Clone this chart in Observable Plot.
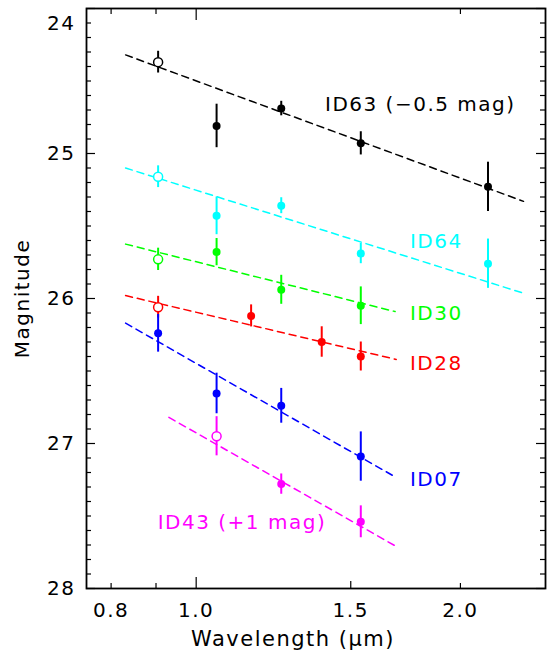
<!DOCTYPE html>
<html>
<head>
<meta charset="utf-8">
<script src="https://cdn.jsdelivr.net/npm/d3@7"></script>
<script src="https://cdn.jsdelivr.net/npm/@observablehq/plot@0.6"></script>
<style>
  html, body { margin: 0; padding: 0; background: white; }
</style>
</head>
<body>
<div id="chart"></div>
<script>
// ---------- data ----------
const ids = ["ID63", "ID64", "ID30", "ID28", "ID07", "ID43"];
const colors = ["#000000", "#00ffff", "#00ff00", "#ff0000", "#0000ff", "#ff00ff"];

// wavelengths (micron) per object
const wlID63 = [0.905, 1.055, 1.25, 1.54, 2.15];
const wlID64 = [0.905, 1.055, 1.25, 1.54, 2.15];
const wlID30 = [0.905, 1.055, 1.25, 1.54];
const wlID28 = [0.905, 1.155, 1.39, 1.54];
const wlID07 = [0.905, 1.055, 1.25, 1.54];
const wlID43 = [1.055, 1.25, 1.54];

// magnitudes (with offsets already applied as in the figure)
const magID63 = [24.37, 24.81, 24.69, 24.93, 25.23];
const magID64 = [25.16, 25.43, 25.36, 25.69, 25.76];
const magID30 = [25.73, 25.68, 25.94, 26.05];
const magID28 = [26.06, 26.12, 26.30, 26.40];
const magID07 = [26.24, 26.655, 26.74, 27.09];
const magID43 = [26.95, 27.28, 27.54];

// errors
const errID63 = [0.075, 0.15, 0.05, 0.08, 0.17];
const errID64 = [0.075, 0.13, 0.055, 0.07, 0.17];
const errID30 = [0.077, 0.094, 0.10, 0.13];
const errID28 = [0.075, 0.076, 0.105, 0.10];
const errID07 = [0.13, 0.14, 0.12, 0.17];
const errID43 = [0.135, 0.07, 0.11];

// open symbol flags (1 = open circle)
const openID63 = [1, 0, 0, 0, 0];
const openID64 = [1, 0, 0, 0, 0];
const openID30 = [1, 0, 0, 0];
const openID28 = [1, 0, 0, 0];
const openID07 = [0, 0, 0, 0];
const openID43 = [1, 0, 0];

// fitted power-law lines: [wl start, mag start, wl end, mag end]
const fitID63 = [0.831, 24.32, 2.36, 25.33];
const fitID64 = [0.831, 25.10, 2.35, 25.96];
const fitID30 = [0.831, 25.625, 1.685, 26.09];
const fitID28 = [0.831, 25.98, 1.69, 26.42];
const fitID07 = [0.831, 26.17, 1.685, 27.23];
const fitID43 = [0.931, 26.82, 1.69, 27.71];

// label texts and anchor (wl, mag)
const labelTexts = ["ID63 (\u22120.5 mag)", "ID64", "ID30", "ID28", "ID07", "ID43 (+1 mag)"];
const labelWl = [1.402, 1.752, 1.752, 1.752, 1.752, 0.904];
const labelMag = [24.664, 25.607, 26.106, 26.45, 27.246, 27.545];

// axis ticks
const xTickLabels = [0.8, 1.0, 1.5, 2.0];
const yTickLabels = [25, 26, 27, 28];

// ---------- build tables ----------
const wls = [wlID63, wlID64, wlID30, wlID28, wlID07, wlID43];
const mags = [magID63, magID64, magID30, magID28, magID07, magID43];
const errs = [errID63, errID64, errID30, errID28, errID07, errID43];
const opens = [openID63, openID64, openID30, openID28, openID07, openID43];
const fits = [fitID63, fitID64, fitID30, fitID28, fitID07, fitID43];

const points = [];
ids.forEach((id, i) => {
  wls[i].forEach((w, j) => {
    points.push({id, color: colors[i], wl: w, mag: mags[i][j], err: errs[i][j], open: opens[i][j] === 1});
  });
});
const lines = [];
ids.forEach((id, i) => {
  const f = fits[i];
  lines.push({id, color: colors[i], wl: f[0], mag: f[1]});
  lines.push({id, color: colors[i], wl: f[2], mag: f[3]});
});
const labels = ids.map((id, i) => ({text: labelTexts[i], color: colors[i], wl: labelWl[i], mag: labelMag[i]}));

// ---------- layout ----------
const W = 548, H = 652;
const mL = 86, mR = 3, mT = 8, mB = 64;
const pw = W - mL - mR, ph = H - mT - mB;

const yMinor = d3.range(241, 280).map(v => v / 10).filter(v => Math.abs(v - Math.round(v)) > 1e-6);
const yMajor = [24, 25, 26, 27, 28];

const FONT = "'DejaVu Sans', sans-serif";

const chart = Plot.plot({
  width: W,
  height: H,
  marginLeft: mL,
  marginRight: mR,
  marginTop: mT,
  marginBottom: mB,
  style: {fontFamily: FONT, fontSize: "20px", letterSpacing: "1.5px", background: "white", color: "black"},
  x: {type: "log", domain: [0.75, 2.5], range: [mL, W - mR]},
  y: {domain: [24, 28], range: [mT, H - mB]},
  color: {type: "identity"},
  marks: [
    // inward ticks: y left/right
    Plot.tickY(yMinor, {y: d => d, insetRight: pw - 5, stroke: "black", strokeWidth: 1.2}),
    Plot.tickY(yMinor, {y: d => d, insetLeft: pw - 5, stroke: "black", strokeWidth: 1.2}),
    Plot.tickY(yMajor, {y: d => d, insetRight: pw - 9, stroke: "black", strokeWidth: 1.2}),
    Plot.tickY(yMajor, {y: d => d, insetLeft: pw - 9, stroke: "black", strokeWidth: 1.2}),
    // x ticks bottom
    Plot.tickX([0.8, 0.9, 2.0], {x: d => d, insetTop: ph - 5, stroke: "black", strokeWidth: 1.2}),
    Plot.tickX([1.5], {x: d => d, insetTop: ph - 7, stroke: "black", strokeWidth: 1.2}),
    Plot.tickX([1.0], {x: d => d, insetTop: ph - 11, stroke: "black", strokeWidth: 1.2}),
    // x ticks top
    Plot.tickX([0.8, 0.9, 2.0], {x: d => d, insetBottom: ph - 6, stroke: "black", strokeWidth: 1.2}),
    Plot.tickX([1.0], {x: d => d, insetBottom: ph - 12, stroke: "black", strokeWidth: 1.2}),
    Plot.frame({stroke: "black", strokeWidth: 1.8}),
    // axis labels
    Plot.axisY({ticks: yTickLabels, tickSize: 0, tickPadding: 11, tickFormat: d3.format("d"), fontSize: 20, label: null}),
    Plot.axisY({ticks: [24], tickSize: 0, tickPadding: 11, tickFormat: d3.format("d"), fontSize: 20, dy: 15, label: null}),
    Plot.axisX({ticks: xTickLabels, tickSize: 0, tickPadding: 14, tickFormat: d3.format(".1f"), fontSize: 20, label: null}),
    Plot.text(["Magnitude"], {frameAnchor: "left", textAnchor: "middle", lineAnchor: "middle", dx: -64, rotate: -90, fontSize: 20, text: d => d}),
    Plot.text(["Wavelength (\u03bcm)"], {frameAnchor: "bottom", textAnchor: "middle", lineAnchor: "middle", dx: -23, dy: 51, fontSize: 21, text: d => d}),
    // fit lines
    Plot.line(lines, {x: "wl", y: "mag", z: "id", stroke: "color", strokeWidth: 1.5, strokeDasharray: "7,5"}),
    // error bars
    Plot.ruleX(points, {x: "wl", y1: d => d.mag - d.err, y2: d => d.mag + d.err, stroke: "color", strokeWidth: 2}),
    // symbols
    Plot.dot(points.filter(d => !d.open), {x: "wl", y: "mag", fill: "color", r: 4, stroke: null}),
    Plot.dot(points.filter(d => d.open), {x: "wl", y: "mag", stroke: "color", fill: "white", r: 4.5, strokeWidth: 1.5}),
    // object labels
    Plot.text(labels, {x: "wl", y: "mag", text: "text", fill: "color", textAnchor: "start", fontSize: 20})
  ]
});
document.getElementById("chart").appendChild(chart);
</script>
</body>
</html>
